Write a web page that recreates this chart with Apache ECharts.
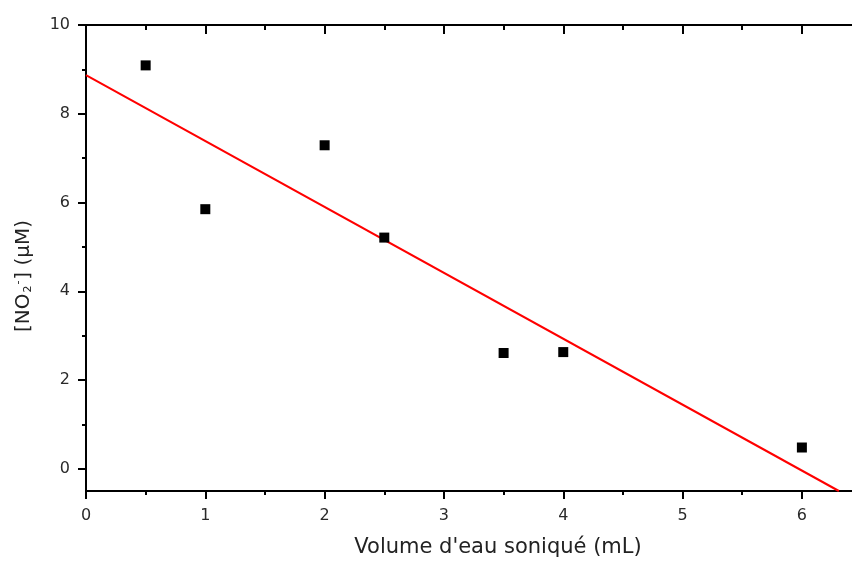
<!DOCTYPE html>
<html>
<head>
<meta charset="utf-8">
<script src="https://cdn.jsdelivr.net/npm/echarts@6/dist/echarts.min.js"></script>
<style>html,body{margin:0;padding:0;background:#fff;}#c{width:852px;height:563px;}</style>
</head>
<body>
<div id="c"></div>
<script>
// Data
const volumes = [0.5, 1, 2, 2.5, 3.5, 4, 6];
const nitrite = [9.09, 5.85, 7.29, 5.21, 2.61, 2.63, 0.48];
const fitX = [0, 6.31];
const fitY = [8.87, -0.5];
const xMajorTicks = [0, 1, 2, 3, 4, 5, 6];
const xMinorTicks = [0.5, 1.5, 2.5, 3.5, 4.5, 5.5];
const yMajorTicks = [0, 2, 4, 6, 8, 10];
const yMinorTicks = [1, 3, 5, 7, 9];

const FONT = 'DejaVu Sans';
const black = '#000';
const chart = echarts.init(document.getElementById('c'), null, {renderer: 'canvas'});

function xAx(pos, ticks, len, inside, opts) {
  return Object.assign({
    type: 'value', position: pos, min: 0, max: 6.42,
    axisLine: {show: false, onZero: false, lineStyle: {color: black, width: 2}},
    axisTick: {show: true, customValues: ticks, length: len, inside: inside, lineStyle: {color: black, width: 2}},
    axisLabel: {show: false},
    splitLine: {show: false}
  }, opts || {});
}
function yAx(pos, ticks, len, inside, opts) {
  return Object.assign({
    type: 'value', position: pos, min: -0.5, max: 10,
    axisLine: {show: false, onZero: false, lineStyle: {color: black, width: 2}},
    axisTick: {show: true, customValues: ticks, length: len, inside: inside, lineStyle: {color: black, width: 2}},
    axisLabel: {show: false},
    splitLine: {show: false}
  }, opts || {});
}

const option = {
  animation: false,
  backgroundColor: '#fff',
  grid: {left: 86, right: 0, top: 25, bottom: 71, containLabel: false},
  xAxis: [
    xAx('bottom', xMajorTicks, 8, false, {
      axisLine: {show: true, onZero: false, lineStyle: {color: black, width: 2}},
      axisLabel: {show: true, customValues: xMajorTicks, margin: 17, fontFamily: FONT, fontSize: 16, color: '#2a2a2a'},
      name: "Volume d'eau soniqué (mL)",
      nameLocation: 'middle', nameGap: 46,
      nameTextStyle: {fontFamily: FONT, fontSize: 21, color: '#222', padding: [0, 0, 0, 58]}
    }),
    xAx('bottom', xMinorTicks, 4, false),
    xAx('top', xMajorTicks, 9, true, {axisLine: {show: true, onZero: false, lineStyle: {color: black, width: 2}}}),
    xAx('top', xMinorTicks, 5, true)
  ],
  yAxis: [
    yAx('left', yMajorTicks, 8, false, {
      axisLine: {show: true, onZero: false, lineStyle: {color: black, width: 2}},
      axisLabel: {show: true, customValues: yMajorTicks, margin: 16, fontFamily: FONT, fontSize: 16, color: '#2a2a2a'},
      name: '[NO{sub|2}{sup|-}] (μM)',
      nameLocation: 'middle', nameGap: 52, nameRotate: 90,
      nameTextStyle: {
        fontFamily: FONT, fontSize: 20, color: '#222', padding: [0, 36, 0, 0],
        rich: {
          sub: {fontFamily: FONT, fontSize: 11, color: '#222', verticalAlign: 'bottom', padding: [10, 1, 0, 1]},
          sup: {fontFamily: FONT, fontSize: 11, color: '#222', verticalAlign: 'top', padding: [0, 1, 10, 0]}
        }
      }
    }),
    yAx('left', yMinorTicks, 4, false)
  ],
  series: [
    {
      type: 'line', xAxisIndex: 0, yAxisIndex: 0,
      data: fitX.map((x, i) => [x, fitY[i]]),
      showSymbol: false, symbol: 'none', clip: true,
      lineStyle: {color: '#ff0000', width: 2},
      z: 2
    },
    {
      type: 'scatter', xAxisIndex: 0, yAxisIndex: 0,
      data: volumes.map((x, i) => [x, nitrite[i]]),
      symbol: 'rect', symbolSize: 10,
      itemStyle: {color: '#000', opacity: 1},
      z: 3
    }
  ]
};
chart.setOption(option);
</script>
</body>
</html>
